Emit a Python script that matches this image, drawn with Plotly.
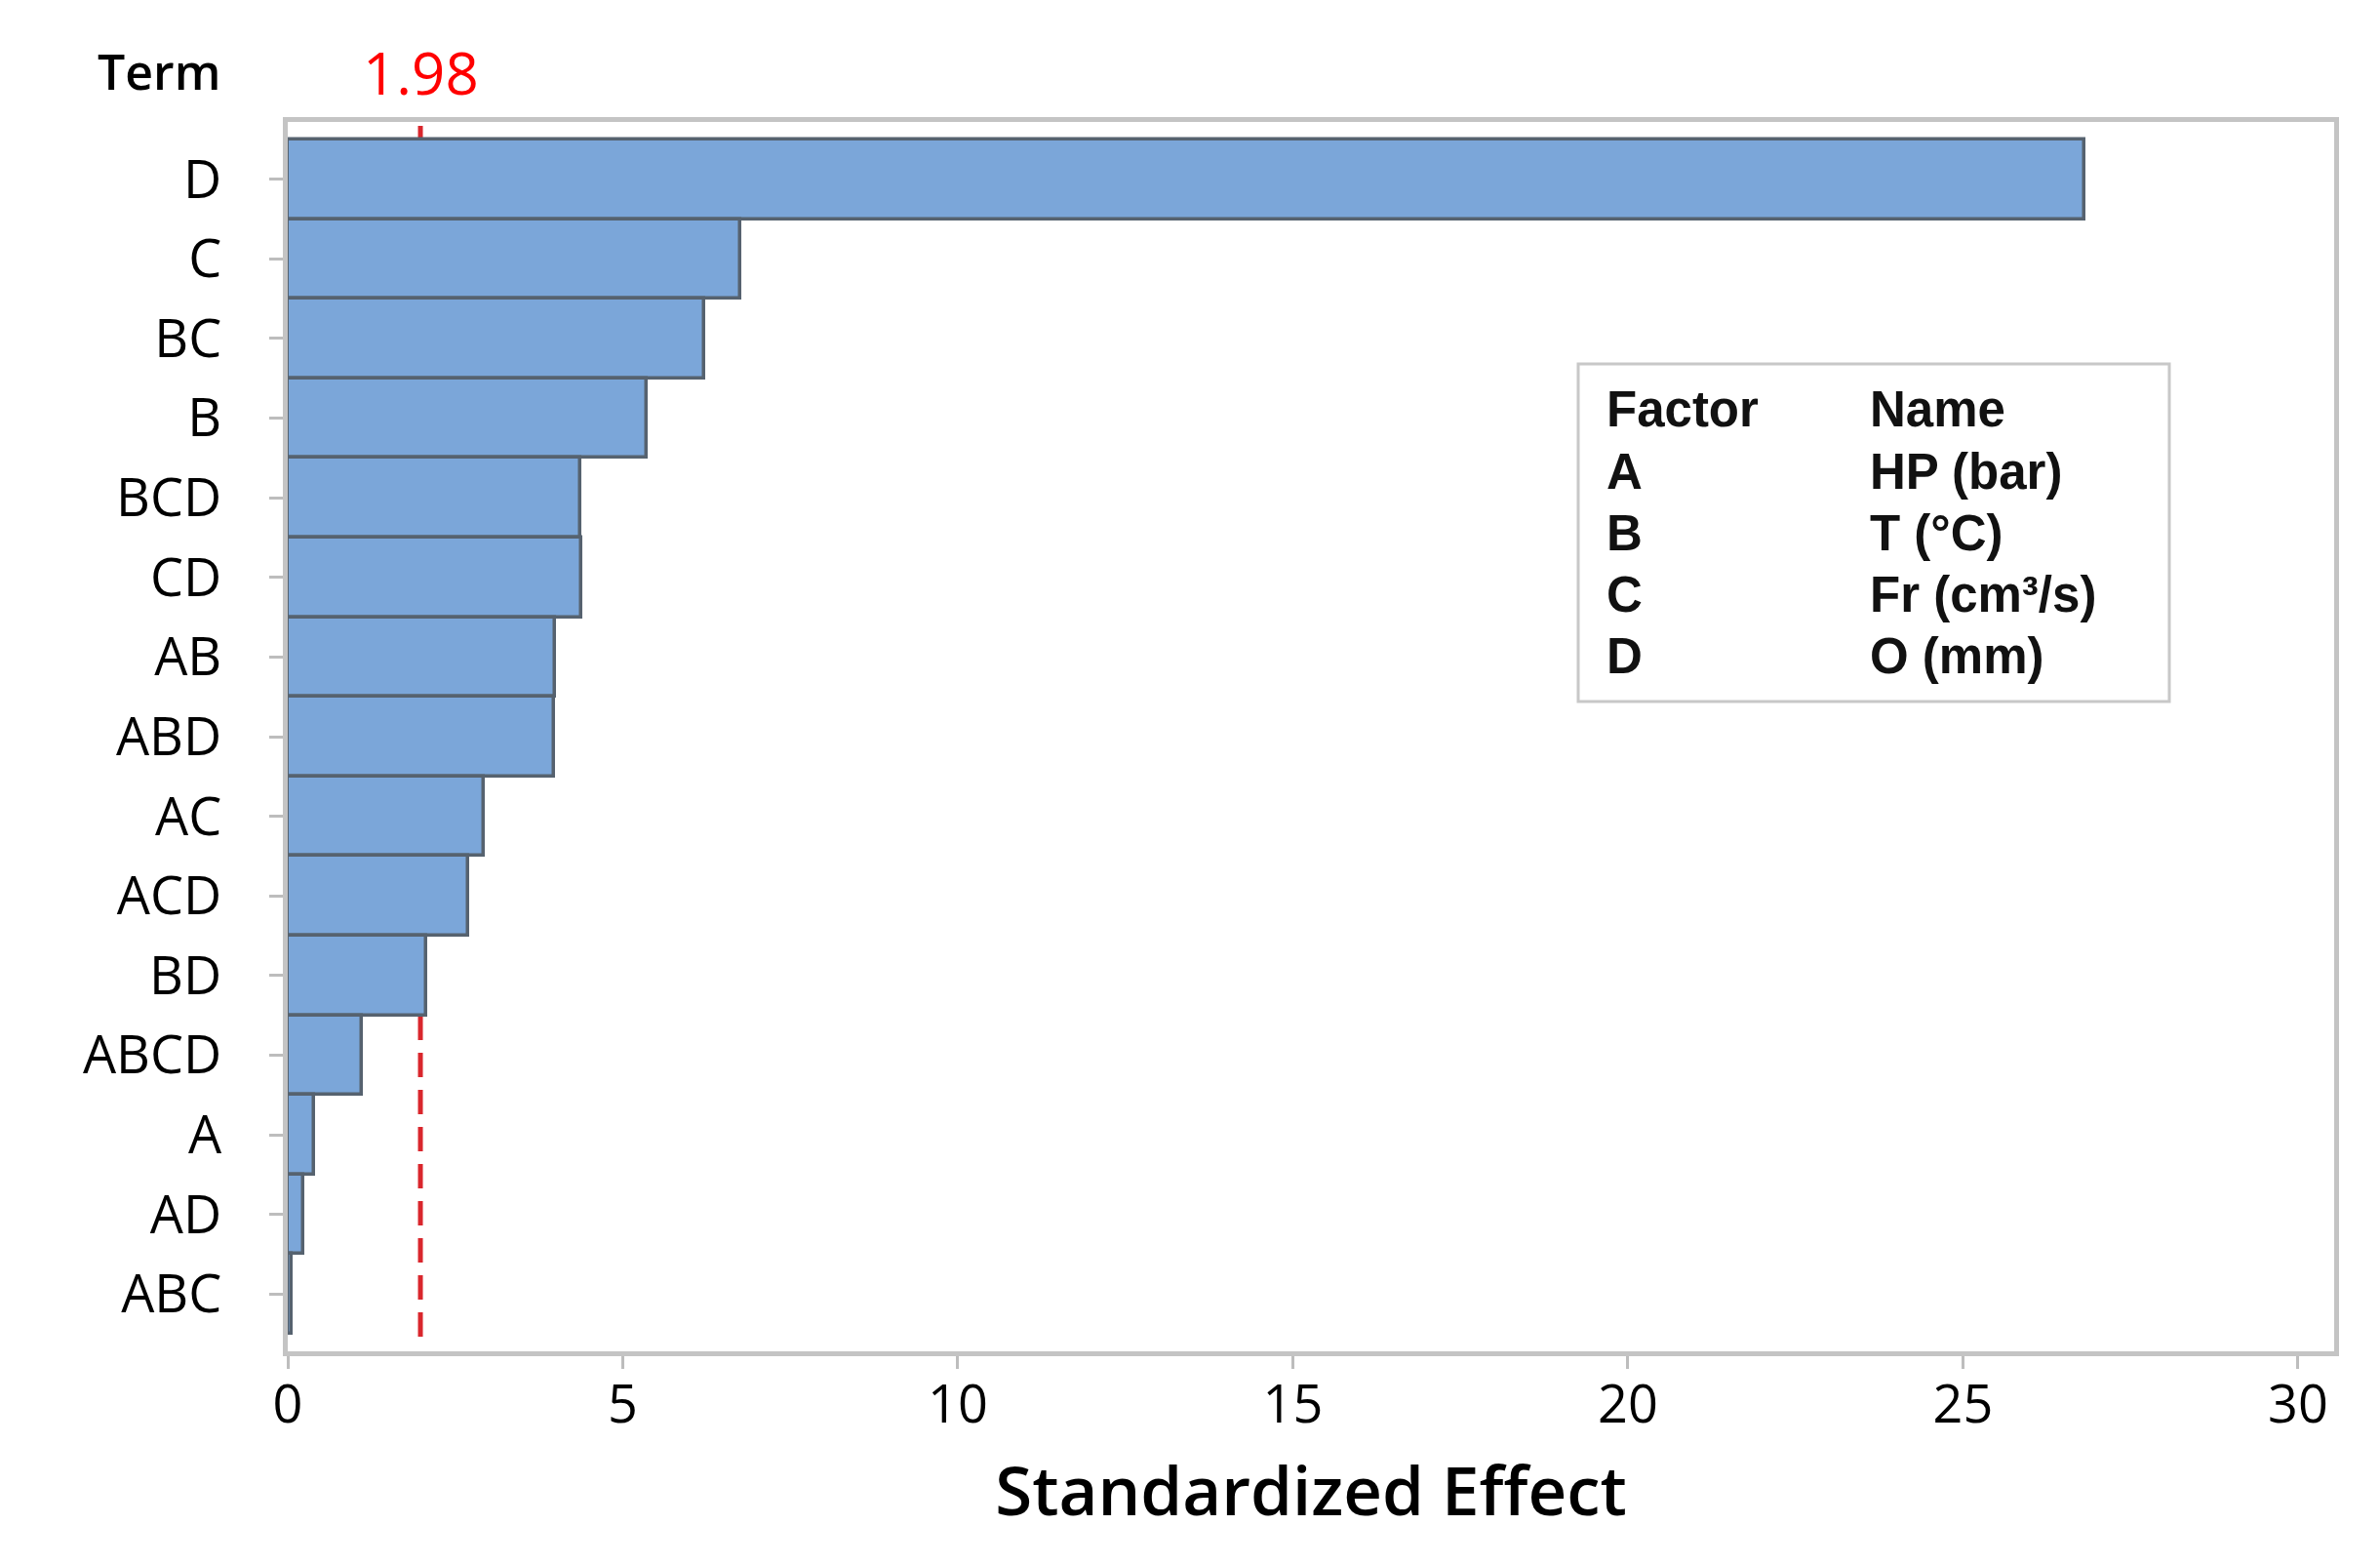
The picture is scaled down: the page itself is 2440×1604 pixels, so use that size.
import plotly.graph_objects as go

# ---- data ----
terms = ["D", "C", "BC", "B", "BCD", "CD", "AB", "ABD", "AC", "ACD", "BD", "ABCD", "A", "AD", "ABC"]
effects = [26.82, 6.75, 6.21, 5.35, 4.37, 4.38, 3.99, 3.98, 2.93, 2.70, 2.07, 1.10, 0.40, 0.23, 0.06]
ref_value = 1.98
x_ticks = [0, 5, 10, 15, 20, 25, 30]
factor_codes = ["A", "B", "C", "D"]
factor_names = ["HP (bar)", "T (°C)", "Fr (cm³/s)", "O (mm)"]

OFF = 8  # page body margin
W, H = 2440, 1604
L, T = 295 - OFF, 125 - OFF
pw, ph = 2098, 1260
R, B = W - L - pw, H - T - ph

def px_x(p):
    return (p - OFF - L) / pw

def px_y(p):
    return (T + ph - (p - OFF)) / ph

tick_font = dict(family="Open Sans", size=54, color="black", weight=500)

fig = go.Figure()
fig.add_trace(go.Bar(
    y=terms, x=effects, orientation="h", width=1.0,
    marker=dict(color="#7BA6D9", line=dict(color="#56626f", width=3.5)),
    showlegend=False,
))

fig.update_layout(
    width=W, height=H,
    margin=dict(l=L, r=R, t=T, b=B),
    paper_bgcolor="white", plot_bgcolor="white",
    bargap=0,
    xaxis=dict(
        range=[0, 30.54], tickvals=x_ticks, ticktext=[str(v) for v in x_ticks],
        ticks="outside", ticklen=13, tickwidth=3, tickcolor="#bdbdbd",
        showline=True, mirror=True, linecolor="#c4c4c4", linewidth=5,
        showgrid=False, zeroline=False, tickfont=tick_font,
        ticklabelstandoff=-10,
        title=dict(text="Standardized Effect", standoff=33,
                   font=dict(family="Open Sans", size=69, color="black", weight=600)),
    ),
    yaxis=dict(
        categoryorder="array", categoryarray=terms,
        range=[len(terms) - 1 + 0.72, -0.72],
        ticks="outside", ticklen=14, tickwidth=3, tickcolor="#bdbdbd",
        showline=True, mirror=True, linecolor="#c4c4c4", linewidth=5,
        showgrid=False, zeroline=False, tickfont=tick_font,
        ticklabelstandoff=38,
    ),
)

# reference line (drawn behind bars)
fig.add_shape(type="line", xref="x", yref="paper", x0=ref_value, x1=ref_value,
              y0=px_y(1370), y1=1.0, layer="below",
              line=dict(color="#d9262c", width=5, dash="25px,13px"))

fig.add_annotation(x=ref_value, xref="x", y=px_y(74), yref="paper", text=f"{ref_value:.2f}",
                   showarrow=False, xanchor="center", yanchor="middle",
                   font=dict(family="Open Sans", size=60, color="#ff0000"))
fig.add_annotation(x=px_x(228), xref="paper", y=px_y(73), yref="paper", text="Term",
                   showarrow=False, xanchor="right", yanchor="middle",
                   font=dict(family="Open Sans", size=50, color="black", weight=600))

# factor table box
fig.add_shape(type="rect", xref="paper", yref="paper",
              x0=px_x(1618), x1=px_x(2224), y0=px_y(719), y1=px_y(373),
              fillcolor="white", line=dict(color="#c8c8c8", width=3), layer="above")

legend_font = dict(family="Liberation Sans", size=51, color="#111111", weight="bold")
row_centers = [420, 483, 546, 609, 672]
col1, col2 = px_x(1645), px_x(1915)
fig.add_annotation(x=col1, y=px_y(row_centers[0]), xref="paper", yref="paper", text="Factor",
                   showarrow=False, xanchor="left", yanchor="middle", font=legend_font)
fig.add_annotation(x=col2, y=px_y(row_centers[0]), xref="paper", yref="paper", text="Name",
                   showarrow=False, xanchor="left", yanchor="middle", font=legend_font)
for i, (code, name) in enumerate(zip(factor_codes, factor_names)):
    yc = px_y(row_centers[i + 1])
    fig.add_annotation(x=col1, y=yc, xref="paper", yref="paper", text=code,
                       showarrow=False, xanchor="left", yanchor="middle", font=legend_font)
    fig.add_annotation(x=col2, y=yc, xref="paper", yref="paper", text=name,
                       showarrow=False, xanchor="left", yanchor="middle", font=legend_font)

fig.write_html("out.html")
